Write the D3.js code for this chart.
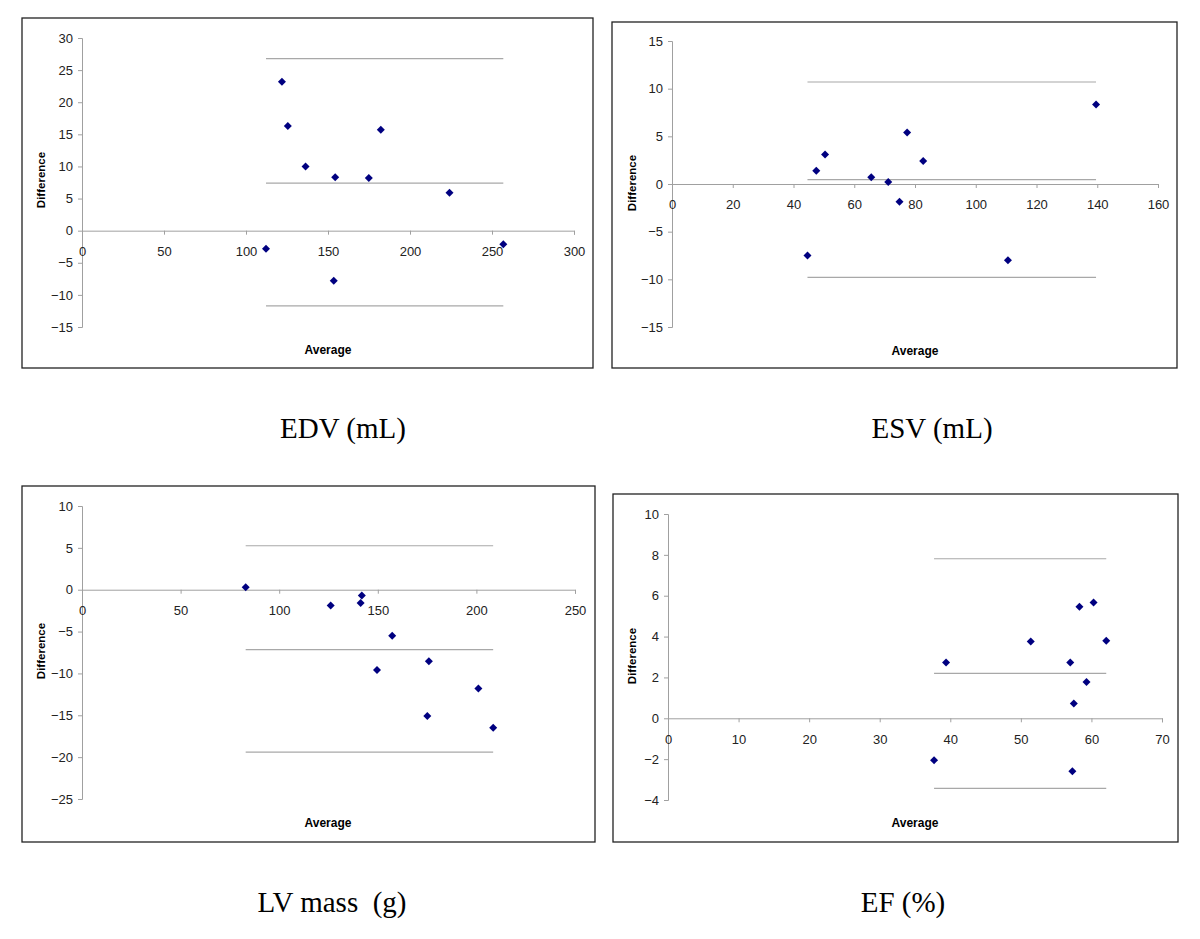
<!DOCTYPE html>
<html>
<head>
<meta charset="utf-8">
<script src="https://cdn.jsdelivr.net/npm/d3@7"></script>
<style>
  body { margin: 0; background: #fff; }
  svg { display: block; }
</style>
</head>
<body>
<svg id="chart" width="1200" height="939"></svg>
<script>
// EDV (mL)
const edvAvg  = [121.9, 125.5, 136.3, 154.4, 174.9, 182.2, 224.1, 256.9, 112.2, 153.5];
const edvDiff = [23.2, 16.3, 10.0, 8.3, 8.2, 15.7, 5.9, -2.1, -2.8, -7.8];
const edvLimits = [26.8, 7.4, -11.7];

// ESV (mL)
const esvAvg  = [44.6, 47.5, 50.4, 65.6, 71.2, 74.9, 77.4, 82.7, 110.6, 139.6];
const esvDiff = [-7.5, 1.4, 3.1, 0.7, 0.2, -1.85, 5.4, 2.4, -8.0, 8.35];
const esvLimits = [10.7, 0.45, -9.8];

// LV mass (g)
const lvAvg  = [83.0, 126.1, 141.9, 141.3, 157.3, 149.6, 175.9, 175.1, 201.0, 208.5];
const lvDiff = [0.3, -1.9, -0.7, -1.6, -5.5, -9.6, -8.55, -15.1, -11.8, -16.5];
const lvLimits = [5.25, -7.15, -19.4];

// EF (%)
const efAvg  = [37.7, 39.4, 51.4, 57.0, 57.3, 57.5, 58.3, 59.3, 60.3, 62.1];
const efDiff = [-2.05, 2.73, 3.76, 2.73, -2.59, 0.72, 5.46, 1.78, 5.67, 3.8];
const efLimits = [7.81, 2.2, -3.43];

const svg = d3.select('#chart');

function drawPanel(p) {
  const g = svg.append('g');

  // chart area border
  g.append('rect')
    .attr('x', p.frame[0]).attr('y', p.frame[1])
    .attr('width', p.frame[2] - p.frame[0])
    .attr('height', p.frame[3] - p.frame[1])
    .attr('fill', '#fff')
    .attr('stroke', '#222')
    .attr('stroke-width', 1.3);

  const x = d3.scaleLinear().domain(p.xDomain).range(p.xRange);
  const y = d3.scaleLinear().domain(p.yDomain).range(p.yRange);

  // y axis
  const yAxis = g.append('g')
    .attr('transform', `translate(${p.xRange[0]},0)`)
    .call(d3.axisLeft(y).tickValues(d3.range(p.yDomain[0], p.yDomain[1] + 1e-9, p.yStep))
      .tickSize(4).tickPadding(5).tickFormat(d3.format('d')));

  // x axis at zero
  const xAxis = g.append('g')
    .attr('transform', `translate(0,${y(0)})`)
    .call(d3.axisBottom(x).tickValues(d3.range(p.xDomain[0], p.xDomain[1] + 1e-9, p.xStep))
      .tickSize(4).tickPadding(12).tickFormat(d3.format('d')));

  [yAxis, xAxis].forEach(a => {
    a.select('.domain').attr('stroke', '#a0a0a0');
    a.selectAll('.tick line').attr('stroke', '#a0a0a0');
    a.selectAll('.tick text')
      .attr('fill', '#222')
      .style('font-family', 'Liberation Sans, Arial, sans-serif')
      .style('font-size', '13px');
  });

  // mean and limits of agreement
  const ext = d3.extent(p.avg);
  g.append('g').selectAll('line')
    .data(p.limits)
    .join('line')
      .attr('x1', x(ext[0])).attr('x2', x(ext[1]))
      .attr('y1', d => y(d)).attr('y2', d => y(d))
      .attr('stroke', '#a8a8a8')
      .attr('stroke-width', 1.2);

  // points
  const diamond = d3.symbol(d3.symbolSquare, 32);
  g.append('g').selectAll('path')
    .data(p.avg.map((a, i) => [a, p.diff[i]]))
    .join('path')
      .attr('d', diamond)
      .attr('transform', d => `translate(${x(d[0])},${y(d[1])}) rotate(45)`)
      .attr('fill', '#000080');

  // axis titles
  g.append('text')
    .attr('transform', `translate(${p.yTitle[0]},${p.yTitle[1]}) rotate(-90)`)
    .attr('text-anchor', 'middle')
    .attr('dominant-baseline', 'central')
    .style('font-family', 'Liberation Sans, Arial, sans-serif')
    .style('font-weight', 'bold')
    .style('font-size', '11.5px')
    .text('Difference');

  g.append('text')
    .attr('x', p.xTitle[0]).attr('y', p.xTitle[1])
    .attr('text-anchor', 'middle')
    .attr('dominant-baseline', 'central')
    .style('font-family', 'Liberation Sans, Arial, sans-serif')
    .style('font-weight', 'bold')
    .style('font-size', '12px')
    .text('Average');

  // caption below panel
  svg.append('text')
    .attr('x', p.caption[0]).attr('y', p.caption[1])
    .attr('text-anchor', 'middle')
    .style('font-family', 'Liberation Serif, Times New Roman, serif')
    .style('font-size', '29px')
    .style('white-space', 'pre')
    .text(p.label);
}

drawPanel({
  label: 'EDV (mL)', avg: edvAvg, diff: edvDiff, limits: edvLimits,
  frame: [22, 18, 593, 368],
  xDomain: [0, 300], xStep: 50, xRange: [82, 574],
  yDomain: [-15, 30], yStep: 5, yRange: [327, 38],
  yTitle: [41, 180], xTitle: [328, 350], caption: [343, 438]
});

drawPanel({
  label: 'ESV (mL)', avg: esvAvg, diff: esvDiff, limits: esvLimits,
  frame: [612, 22, 1177, 368],
  xDomain: [0, 160], xStep: 20, xRange: [672, 1158],
  yDomain: [-15, 15], yStep: 5, yRange: [327, 41],
  yTitle: [632, 183], xTitle: [915, 351], caption: [932, 438]
});

drawPanel({
  label: 'LV mass  (g)', avg: lvAvg, diff: lvDiff, limits: lvLimits,
  frame: [22, 486, 595, 842],
  xDomain: [0, 250], xStep: 50, xRange: [82, 575],
  yDomain: [-25, 10], yStep: 5, yRange: [799, 506],
  yTitle: [41, 651], xTitle: [328, 823], caption: [332, 912]
});

drawPanel({
  label: 'EF (%)', avg: efAvg, diff: efDiff, limits: efLimits,
  frame: [613, 494, 1178, 842],
  xDomain: [0, 70], xStep: 10, xRange: [668, 1162],
  yDomain: [-4, 10], yStep: 2, yRange: [800, 514],
  yTitle: [632, 656], xTitle: [915, 823], caption: [903, 912]
});
</script>
</body>
</html>
